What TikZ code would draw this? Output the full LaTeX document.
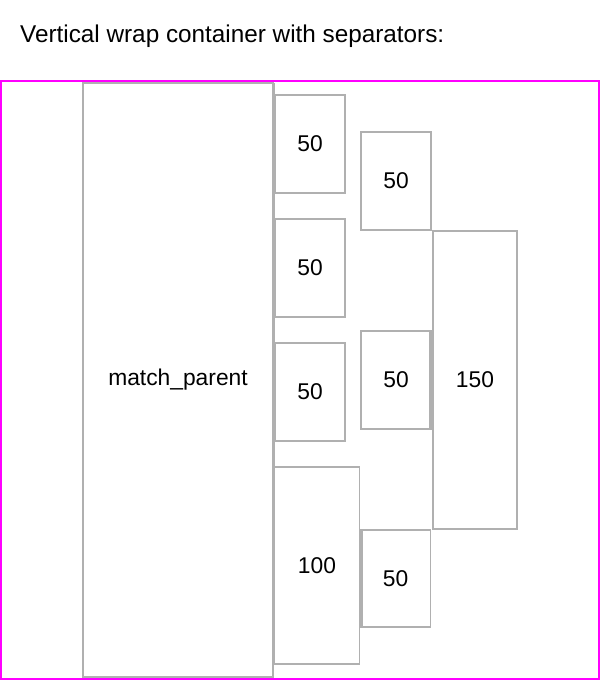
\documentclass[tikz,border=0pt]{standalone}
\usepackage{fontspec}
\setmainfont{Liberation Sans}
\definecolor{boxgray}{HTML}{B0B0B0}
\definecolor{frame}{HTML}{FF00FF}
\tikzset{
  box/.style={draw=boxgray, line width=1.6pt, inner sep=0pt, outer sep=0pt, anchor=north west, font=\fontsize{22.8}{26}\selectfont},
  sepline/.style={draw=boxgray, line width=1.6pt},
}
\begin{document}
\begin{tikzpicture}[x=1pt,y=-1pt]
\useasboundingbox (0,0) rectangle (600,680);
\node[anchor=base west, inner sep=0pt, font=\fontsize{24.3}{28}\selectfont] (title) at (20,42.7) {Vertical wrap container with separators:};
\node[draw=frame, line width=2pt, inner sep=0pt, outer sep=0pt, anchor=north west, minimum width=598pt, minimum height=598pt] (outer) at (1,81) {};
\node[box, minimum width=190pt, minimum height=594pt] (mp) at (83,83) {match\_parent};
\node[box, minimum width=70pt, minimum height=98pt] (a1) at (275,95) {50};
\node[box, minimum width=70pt, minimum height=98pt] (a2) at (275,219) {50};
\node[box, minimum width=70pt, minimum height=98pt] (a3) at (275,343) {50};
\node[box, minimum width=85pt, minimum height=197pt] (a4) at (274.5,467) {100};
\node[box, minimum width=70pt, minimum height=98pt] (b1) at (361,132) {50};
\node[box, minimum width=70pt, minimum height=98pt] (b2) at (361,331) {50};
\node[box, minimum width=70pt, minimum height=97pt] (b3) at (360.5,530) {50};
\node[box, minimum width=84pt, minimum height=298pt] (c1) at (433,231) {150};
\coordinate (s1) at (274.5,665);
\draw[sepline] ([xshift=1.3pt]mp.north east) -- ([xshift=1.3pt]mp.north east |- s1);
\draw[sepline] ([xshift=-1.3pt]b2.north east) -- ([xshift=-1.3pt]b2.south east);
\draw[sepline] ([xshift=1.3pt]b3.north west) -- ([xshift=1.3pt]b3.south west);
\end{tikzpicture}
\end{document}
